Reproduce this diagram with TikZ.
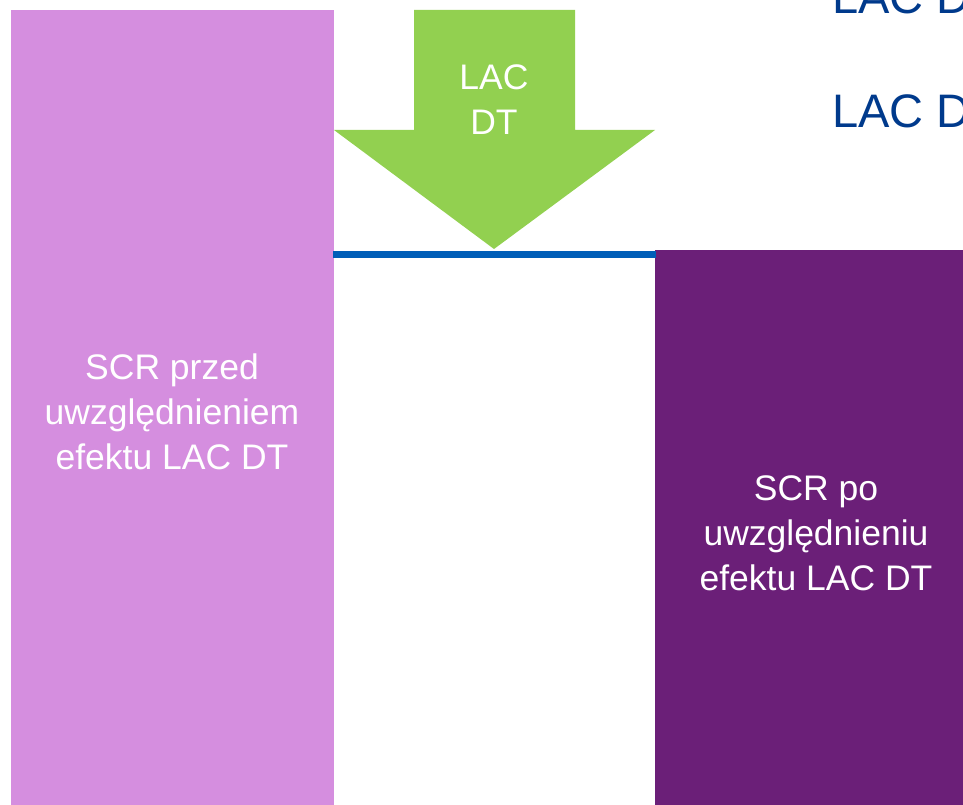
\documentclass[tikz,border=0pt]{standalone}
\usepackage{fontspec}
\setmainfont{Liberation Sans}
\definecolor{pinkbar}{HTML}{D58EDF}
\definecolor{purplebar}{HTML}{6B1F78}
\definecolor{greenarrow}{HTML}{92D050}
\definecolor{blueline}{HTML}{005EB8}
\definecolor{darkblue}{HTML}{003A8C}
\begin{document}
\begin{tikzpicture}[x=1pt,y=-1pt,
  bartext/.style={text=white,align=center,font=\fontsize{35.5}{45}\selectfont},
  sidetext/.style={text=darkblue,anchor=base west,inner sep=0pt,font=\fontsize{47}{47}\selectfont}]
\useasboundingbox (0,0) rectangle (963,805);
\clip (0,0) rectangle (963,805);
\fill[white] (0,0) rectangle (963,805);
% bars
\fill[pinkbar] (11,10) rectangle (334,805);
\fill[purplebar] (655,250) rectangle (963,805);
\node[bartext] (before) at (172,412) {SCR przed\\uwzględnieniem\\efektu LAC DT};
\node[bartext] (after) at (816,533) {SCR po\\uwzględnieniu\\efektu LAC DT};
% blue level line
\coordinate (l1) at (333,254);
\coordinate (l2) at (656,254);
\draw[blueline,line width=7pt] (l1) -- (l2);
% green arrow
\fill[greenarrow] (414,10) -- (575,10) -- (575,130) -- (655,130) -- (494,249) -- (334,130) -- (414,130) -- cycle;
\node[bartext] (lacdt) at (494,100) {LAC\\DT};
% side texts (cut off at the picture's edge, as in the reference)
\node[sidetext] (t1) at (832,14) {LAC DT};
\node[sidetext] (t2) at (832,128) {LAC DT};
\end{tikzpicture}
\end{document}
